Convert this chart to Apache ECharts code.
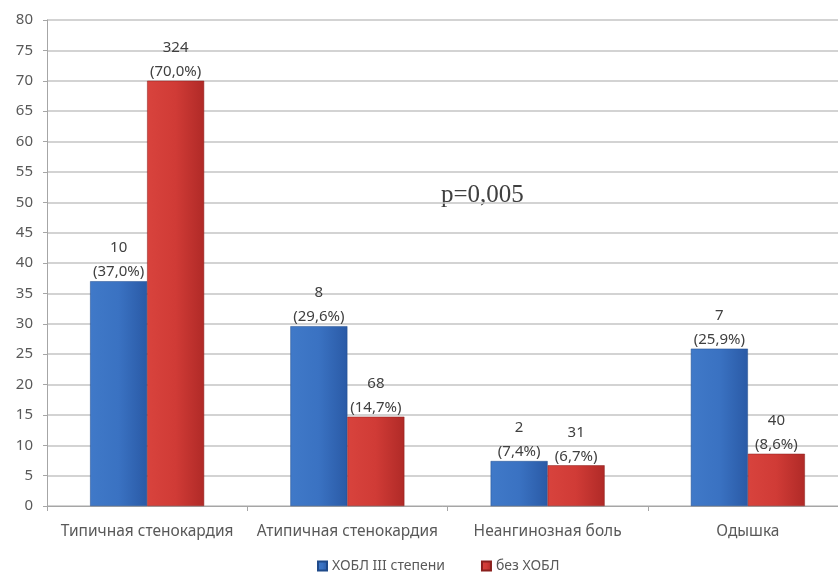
<!DOCTYPE html>
<html>
<head>
<meta charset="utf-8">
<script src="https://cdn.jsdelivr.net/npm/echarts@6/dist/echarts.min.js"></script>
<style>
  html, body { margin: 0; padding: 0; background: #ffffff; }
  #chart { width: 838px; height: 576px; }
</style>
</head>
<body>
<div id="chart"></div>
<script>
// Symptom categories
const categories = ['Типичная стенокардия', 'Атипичная стенокардия', 'Неангинозная боль', 'Одышка'];

// Series names
const seriesNames = ['ХОБЛ III степени', 'без ХОБЛ'];

// Share of patients, %
const copdPercent = [37.0, 29.6, 7.4, 25.9];
const noCopdPercent = [70.0, 14.7, 6.7, 8.6];

// Number of patients
const copdCount = [10, 8, 2, 7];
const noCopdCount = [324, 68, 31, 40];

// Y axis ticks
const yMin = 0, yMax = 80, yStep = 5;

const annotation = 'p=0,005';

function fmtPct(v) {
  return v.toFixed(1).replace('.', ',') + '%';
}

function barGradient(light, mid, dark) {
  return new echarts.graphic.LinearGradient(0, 0, 1, 0, [
    { offset: 0, color: light },
    { offset: 0.5, color: mid },
    { offset: 1, color: dark }
  ]);
}

const chart = echarts.init(document.getElementById('chart'));

const labelStyle = {
  show: true,
  position: 'top',
  distance: -3,
  color: '#404040',
  fontFamily: 'Noto Sans',
  fontSize: 15,
  lineHeight: 24,
  align: 'center'
};

chart.setOption({
  backgroundColor: '#ffffff',
  animation: false,
  grid: { left: 47, top: 20, width: 801, bottom: 70, outerBoundsMode: 'none', containLabel: false },
  legend: {
    bottom: -2,
    left: 312,
    itemWidth: 9,
    itemHeight: 9,
    itemGap: 36,
    icon: 'rect',
    textStyle: { color: '#595959', fontFamily: 'Noto Sans', fontSize: 14 },
    data: seriesNames
  },
  xAxis: {
    type: 'category',
    data: categories,
    axisLine: { lineStyle: { color: '#a6a6a6' } },
    axisTick: { show: true, alignWithLabel: false, length: 5, lineStyle: { color: '#a6a6a6' } },
    axisLabel: { interval: 0, color: '#595959', fontFamily: 'Noto Sans', fontSize: 15.5, margin: 18 }
  },
  yAxis: {
    type: 'value',
    min: yMin,
    max: yMax,
    interval: yStep,
    axisLine: { show: true, lineStyle: { color: '#a6a6a6' } },
    axisTick: { show: true, length: 4, lineStyle: { color: '#a6a6a6' } },
    axisLabel: { color: '#595959', fontFamily: 'Noto Sans', fontSize: 15, margin: 14 },
    splitLine: { lineStyle: { color: '#c4c4c4', width: 1.5 } }
  },
  series: [
    {
      name: seriesNames[0],
      type: 'bar',
      data: copdPercent,
      barWidth: 57,
      barGap: '0%',
      itemStyle: {
        color: barGradient('#4079c8', '#3a72c2', '#2a5aa6'),
        borderColor: '#1f4a8a',
        borderWidth: 0.5
      },
      label: Object.assign({}, labelStyle, {
        formatter: p => copdCount[p.dataIndex] + '\n(' + fmtPct(copdPercent[p.dataIndex]) + ')'
      })
    },
    {
      name: seriesNames[1],
      type: 'bar',
      data: noCopdPercent,
      barWidth: 57,
      itemStyle: {
        color: barGradient('#d8433d', '#d03b36', '#b02a27'),
        borderColor: '#8a1f1c',
        borderWidth: 0.5
      },
      label: Object.assign({}, labelStyle, {
        formatter: p => noCopdCount[p.dataIndex] + '\n(' + fmtPct(noCopdPercent[p.dataIndex]) + ')'
      })
    }
  ],
  graphic: [
    {
      type: 'text',
      left: 441,
      top: 183,
      style: {
        text: annotation,
        fill: '#404040',
        font: '25px "Liberation Serif", "DejaVu Serif", serif'
      }
    }
  ]
});
</script>
</body>
</html>
